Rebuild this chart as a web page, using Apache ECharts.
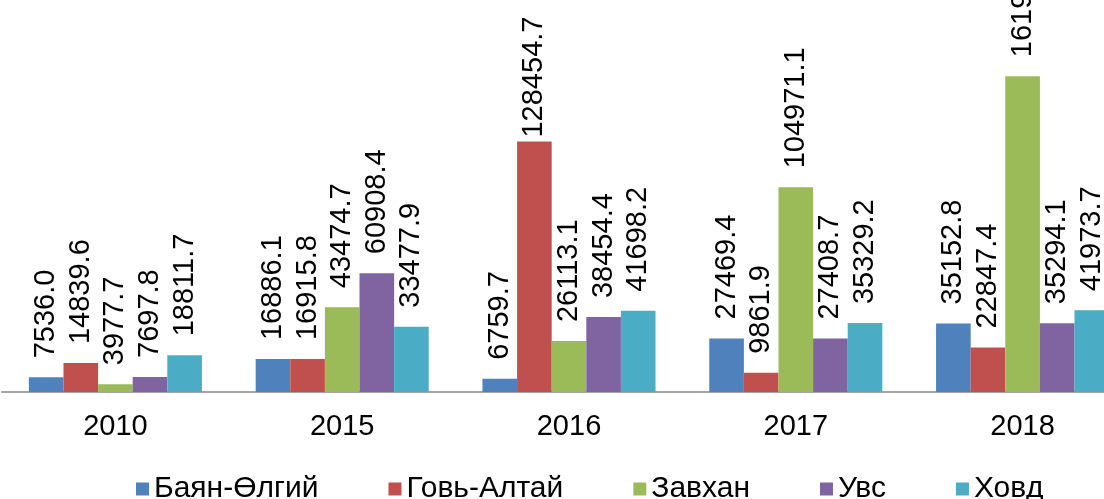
<!DOCTYPE html>
<html>
<head>
<meta charset="utf-8">
<script src="https://cdn.jsdelivr.net/npm/echarts@6/dist/echarts.min.js"></script>
<style>
	html,body{margin:0;padding:0;background:#fff;}
	#chart{width:1104px;height:499px;}
</style>
</head>
<body>
<div id="chart"></div>
<script>
	var years = ['2010', '2015', '2016', '2017', '2018'];
	var names = ['Баян-Өлгий', 'Говь-Алтай', 'Завхан', 'Увс', 'Ховд'];
	var colors = ['#4F81BD', '#C0504D', '#9BBB59', '#8064A2', '#4BACC6'];
	var bayanUlgii = [7536.0, 16886.1, 6759.7, 27469.4, 35152.8];
	var goviAltai = [14839.6, 16915.8, 128454.7, 9861.9, 22847.4];
	var zavkhan = [3977.7, 43474.7, 26113.1, 104971.1, 161925.3];
	var uvs = [7697.8, 60908.4, 38454.4, 27408.7, 35294.1];
	var khovd = [18811.7, 33477.9, 41698.2, 35329.2, 41973.7];
	var values = [bayanUlgii, goviAltai, zavkhan, uvs, khovd];

	var font = '"Liberation Sans", Arial, sans-serif';

	var series = names.map(function(n, i){
		return {
			name: n,
			type: 'bar',
			data: values[i].map(function(v, j){
				var item = {value: v};
				//высокий столбик - подпись ближе к вершине
				if(i == 1 && j == 2){
					item.label = {distance: 4};
				}
				return item;
			}),
			barGap: '0%',
			barCategoryGap: '23.7%',
			itemStyle: {color: colors[i]},
			label: {
				show: true,
				position: 'top',
				rotate: 90,
				align: 'left',
				verticalAlign: 'middle',
				distance: 19,
				color: '#000',
				fontFamily: font,
				fontSize: 29,
				formatter: function(p){ return p.value.toFixed(1); }
			}
		};
	});

	var option = {
		animation: false,
		backgroundColor: '#fff',
		legend: {
			data: names,
			left: 131,
			top: 469,
			itemWidth: 13,
			itemHeight: 13,
			itemGap: 70,
			icon: 'rect',
			textStyle: {color: '#000', fontFamily: font, fontSize: 30}
		},
		grid: {left: 2, top: 2, width: 1134, bottom: 107, outerBoundsMode: 'none', containLabel: false},
		xAxis: {
			type: 'category',
			data: years,
			axisLine: {lineStyle: {color: '#A6A6A6', width: 2}},
			axisTick: {show: false},
			axisLabel: {color: '#000', fontFamily: font, fontSize: 29, margin: 20}
		},
		yAxis: {
			type: 'value',
			min: 0,
			max: 200000,
			show: false,
			splitLine: {show: false}
		},
		series: series
	};

	var myChart = echarts.init(document.getElementById('chart'));
	myChart.setOption(option);
	window.onresize = function(){ myChart.resize(); };
</script>
</body>
</html>
